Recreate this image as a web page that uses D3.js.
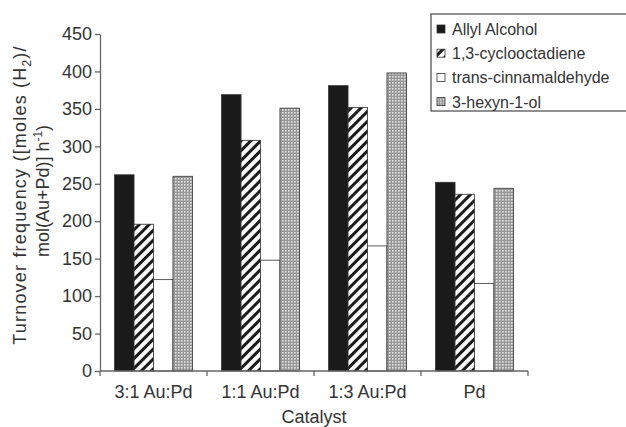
<!DOCTYPE html>
<html>
<head>
<meta charset="utf-8">
<script src="https://cdn.jsdelivr.net/npm/d3@7"></script>
<style>
  body { margin: 0; background: #fff; }
  svg text { font-family: "Liberation Sans", Arial, sans-serif; fill: #333; }
</style>
</head>
<body>
<svg id="chart" width="626" height="427"></svg>
<script>
// data
const catalysts = ["3:1 Au:Pd", "1:1 Au:Pd", "1:3 Au:Pd", "Pd"];
const substrates = ["Allyl Alcohol", "1,3-cyclooctadiene", "trans-cinnamaldehyde", "3-hexyn-1-ol"];
const allylAlcohol = [262, 369, 381, 252];
const cyclooctadiene = [196, 308, 352, 236];
const cinnamaldehyde = [122, 148, 167, 117];
const hexynol = [260, 351, 398, 244];
const yTicks = [0, 50, 100, 150, 200, 250, 300, 350, 400, 450];

const seriesValues = [allylAlcohol, cyclooctadiene, cinnamaldehyde, hexynol];
const fills = ["#1a1a1a", "url(#hatch)", "#ffffff", "url(#dots)"];

const margin = {top: 34, right: 98, bottom: 56, left: 100};
const svg = d3.select("#chart");
const W = +svg.attr("width"), H = +svg.attr("height");
const width = W - margin.left - margin.right;
const height = H - margin.top - margin.bottom;

// patterns
const defs = svg.append("defs");
const hatch = defs.append("pattern")
  .attr("id", "hatch")
  .attr("patternUnits", "userSpaceOnUse")
  .attr("width", 7).attr("height", 7)
  .attr("patternTransform", "rotate(45)");
hatch.append("rect").attr("width", 7).attr("height", 7).attr("fill", "#fff");
hatch.append("rect").attr("width", 3).attr("height", 7).attr("fill", "#1a1a1a");

const dots = defs.append("pattern")
  .attr("id", "dots")
  .attr("patternUnits", "userSpaceOnUse")
  .attr("width", 3).attr("height", 3);
dots.append("rect").attr("width", 3).attr("height", 3).attr("fill", "#979797");
dots.append("rect").attr("width", 1.6).attr("height", 1.6).attr("fill", "#e0e0e0");

const g = svg.append("g").attr("transform", "translate(" + margin.left + "," + margin.top + ")");

const x0 = d3.scaleBand().domain(catalysts).range([0, width]).padding(0);
const x1 = d3.scaleBand().domain(d3.range(substrates.length))
  .range([0, x0.bandwidth()]).paddingInner(0).paddingOuter(0.75);
const y = d3.scaleLinear().domain([0, 450]).range([height, 0]);

// bars
const groups = g.selectAll(".grp")
  .data(catalysts)
  .enter().append("g")
  .attr("class", "grp")
  .attr("transform", d => "translate(" + x0(d) + ",0)");

groups.selectAll("rect")
  .data((d, i) => seriesValues.map((s, k) => ({k: k, v: s[i]})))
  .enter().append("rect")
  .attr("x", d => x1(d.k))
  .attr("y", d => y(d.v))
  .attr("width", x1.bandwidth())
  .attr("height", d => height - y(d.v))
  .attr("fill", d => fills[d.k])
  .attr("stroke", "#333")
  .attr("stroke-width", 0.8);

// y axis
const yAxis = g.append("g")
  .call(d3.axisLeft(y).tickValues(yTicks).tickSize(5).tickSizeOuter(0).tickPadding(3));
yAxis.select(".domain").attr("stroke", "#666").attr("stroke-width", 1.3);
yAxis.selectAll(".tick line").attr("stroke", "#666").attr("stroke-width", 1.3);
yAxis.selectAll(".tick text").attr("font-size", "18px").attr("fill", "#333")
  .style("font-family", "'Liberation Sans', Arial, sans-serif");

// x axis with ticks at group boundaries
const xAxis = g.append("g").attr("transform", "translate(0," + height + ")");
xAxis.append("line").attr("x1", 0).attr("x2", width).attr("stroke", "#666").attr("stroke-width", 1.3);
xAxis.selectAll(".bnd")
  .data(catalysts.concat(["end"]))
  .enter().append("line")
  .attr("x1", (d, i) => i * x0.step()).attr("x2", (d, i) => i * x0.step())
  .attr("y1", 0).attr("y2", 5)
  .attr("stroke", "#666").attr("stroke-width", 1.3);
xAxis.selectAll(".lbl")
  .data(catalysts)
  .enter().append("text")
  .attr("x", d => x0(d) + x0.bandwidth() / 2)
  .attr("y", 27)
  .attr("text-anchor", "middle")
  .attr("font-size", "18px")
  .text(d => d);

// axis titles
g.append("text")
  .attr("x", width / 2).attr("y", height + 52)
  .attr("text-anchor", "middle").attr("font-size", "18px")
  .text("Catalyst");

const yt = svg.append("text")
  .attr("transform", "translate(26,195) rotate(-90)")
  .attr("text-anchor", "middle").attr("font-size", "18px")
  .style("letter-spacing", "1.2px");
yt.append("tspan").text("Turnover frequency ([moles (H");
yt.append("tspan").attr("font-size", "12px").attr("dy", 5).text("2");
yt.append("tspan").attr("dy", -5).text(")/");

const yt2 = svg.append("text")
  .attr("transform", "translate(49,191) rotate(-90)")
  .attr("text-anchor", "middle").attr("font-size", "18px");
yt2.append("tspan").text("mol(Au+Pd)] h");
yt2.append("tspan").attr("font-size", "12px").attr("dy", -7).text("-1");
yt2.append("tspan").attr("dy", 7).text(")");

// legend
const legend = svg.append("g").attr("transform", "translate(431,14)");
legend.append("rect")
  .attr("width", 200).attr("height", 97)
  .attr("fill", "#fff").attr("stroke", "#555").attr("stroke-width", 1.3);
const items = legend.selectAll(".item")
  .data(substrates)
  .enter().append("g")
  .attr("transform", (d, i) => "translate(6," + (15 + i * 24.2) + ")");
items.append("rect")
  .attr("x", 0).attr("y", -4).attr("width", 8).attr("height", 8)
  .attr("fill", (d, i) => fills[i])
  .attr("stroke", "#333").attr("stroke-width", 0.8);
items.append("text")
  .attr("x", 15).attr("y", 6)
  .attr("font-size", "16px")
  .text(d => d);
</script>
</body>
</html>
